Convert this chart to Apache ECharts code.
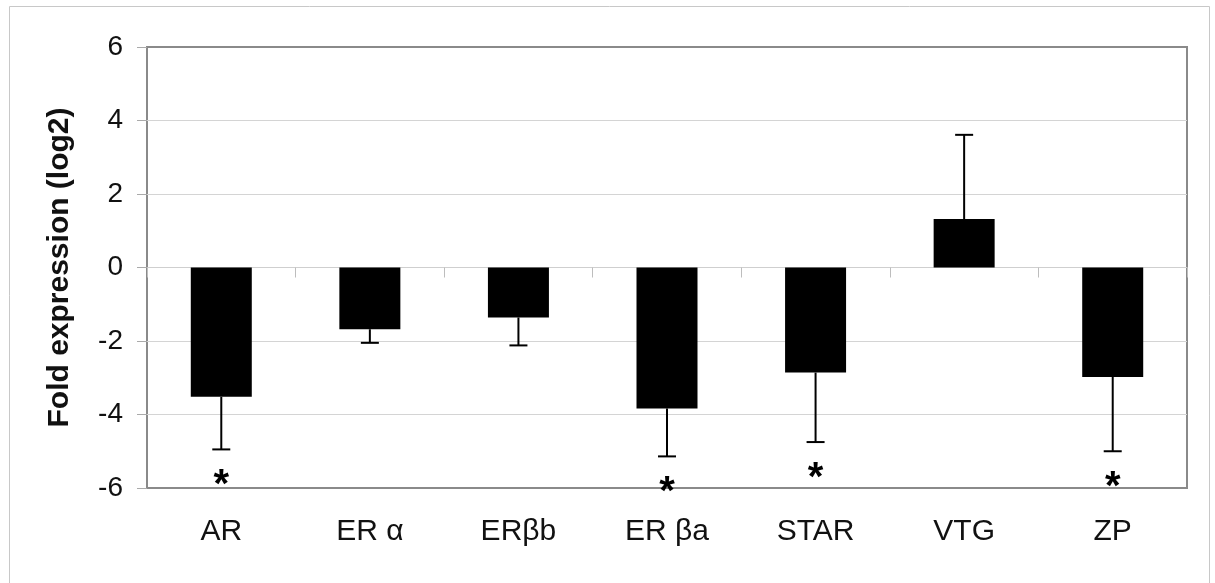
<!DOCTYPE html>
<html>
<head>
<meta charset="utf-8">
<script src="https://cdn.jsdelivr.net/npm/echarts@6/dist/echarts.min.js"></script>
<style>
  html, body { margin: 0; padding: 0; background: #fff; }
  #chart { width: 1215px; height: 583px; }
</style>
</head>
<body>
<div id="chart"></div>
<script>
// data
var genes = ['AR', 'ER α', 'ERβb', 'ER βa', 'STAR', 'VTG', 'ZP'];
var foldLog2 = [-3.52, -1.68, -1.36, -3.84, -2.86, 1.32, -2.98];
var errorEnd = [-4.95, -2.05, -2.12, -5.14, -4.75, 3.61, -5.0];
var signif = [true, false, false, true, true, false, true];
var yTicks = [-6, -4, -2, 0, 2, 4, 6];

var FONT = 'Arial, "Liberation Sans", sans-serif';

var errData = genes.map(function (g, i) { return [i, foldLog2[i], errorEnd[i]]; });
var starData = [];
signif.forEach(function (s, i) { if (s) starData.push([i, errorEnd[i]]); });

var chart = echarts.init(document.getElementById('chart'));

chart.setOption({
    animation: false,
    backgroundColor: '#fff',
    graphic: [{
        type: 'rect',
        shape: { x: 9.5, y: 6.5, width: 1200, height: 600 },
        style: { fill: 'none', stroke: '#c8c8c8', lineWidth: 1 },
        silent: true
    }],
    grid: {
        left: 147, right: 28, top: 47, bottom: 95,
        show: true, borderColor: '#8a8a8a', borderWidth: 2,
        backgroundColor: 'transparent'
    },
    xAxis: [{
        type: 'category',
        data: genes,
        position: 'bottom',
        axisLine: { show: false, onZero: false },
        axisTick: { show: false },
        axisLabel: { color: '#111', fontSize: 30, fontFamily: FONT, margin: 29 }
    }, {
        type: 'category',
        data: genes,
        position: 'bottom',
        axisLine: { show: true, onZero: true, lineStyle: { color: '#cfcfcf', width: 1 } },
        axisTick: { show: true, length: 10, lineStyle: { color: '#bdbdbd' } },
        axisLabel: { show: false }
    }],
    yAxis: {
        type: 'value',
        min: -6, max: 6, interval: 2,
        name: 'Fold expression (log2)',
        nameLocation: 'middle',
        nameGap: 72,
        nameTextStyle: { fontSize: 30, fontWeight: 'bold', color: '#111', fontFamily: FONT },
        axisLine: { show: false },
        axisTick: { show: true, length: 10, lineStyle: { color: '#aaa' } },
        axisLabel: {
            color: '#111', fontSize: 28, fontFamily: FONT, margin: 24,
            formatter: function (v) { return yTicks.indexOf(v) >= 0 ? String(v) : ''; }
        },
        splitLine: { show: true, showMinLine: false, showMaxLine: false, lineStyle: { color: '#d4d4d4', width: 1 } }
    },
    series: [{
        type: 'bar',
        data: foldLog2,
        barWidth: 61,
        itemStyle: { color: '#000' }
    }, {
        type: 'custom',
        data: errData,
        z: 3,
        renderItem: function (params, api) {
            var p0 = api.coord([api.value(0), api.value(1)]);
            var p1 = api.coord([api.value(0), api.value(2)]);
            var style = { stroke: '#000', lineWidth: 2 };
            return {
                type: 'group',
                children: [{
                    type: 'line',
                    shape: { x1: p0[0], y1: p0[1], x2: p1[0], y2: p1[1] },
                    style: style
                }, {
                    type: 'line',
                    shape: { x1: p1[0] - 9, y1: p1[1], x2: p1[0] + 9, y2: p1[1] },
                    style: style
                }]
            };
        }
    }, {
        type: 'custom',
        data: starData,
        z: 3,
        renderItem: function (params, api) {
            var p = api.coord([api.value(0), api.value(1)]);
            return {
                type: 'text',
                style: {
                    text: '*', x: p[0], y: p[1] + 37,
                    fill: '#000', font: 'bold 40px ' + FONT,
                    align: 'center', verticalAlign: 'middle'
                }
            };
        }
    }]
});
</script>
</body>
</html>
